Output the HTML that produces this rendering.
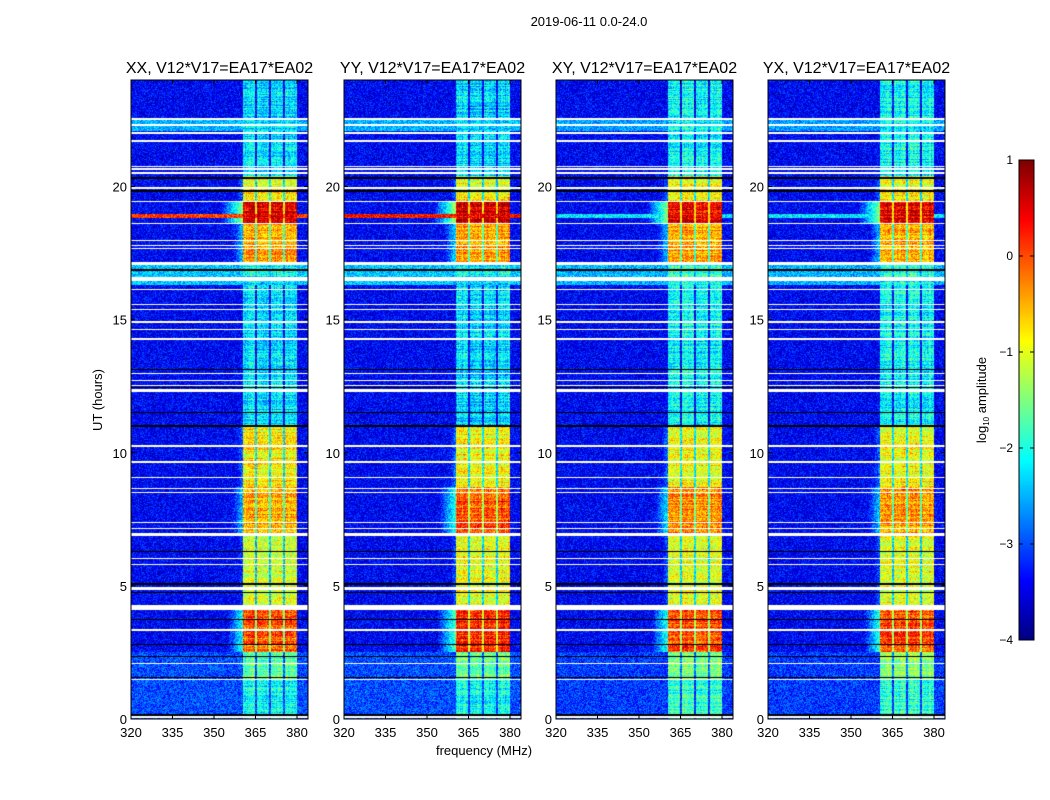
<!DOCTYPE html>
<html><head><meta charset="utf-8">
<style>
body{margin:0;background:#fff;}
#wrap{position:relative;width:1050px;height:800px;overflow:hidden;background:#fff;font-family:"Liberation Sans",sans-serif;}
canvas{position:absolute;left:0;top:0;}
svg{position:absolute;left:0;top:0;}
text{font-family:"Liberation Sans",sans-serif;fill:#000;}
</style></head>
<body>
<div id="wrap">
<canvas id="cv" width="1050" height="800"></canvas>
<svg id="sv" width="1050" height="800"></svg>
</div>
<script>
// ---- data ----
const panelTitles = ["XX, V12*V17=EA17*EA02","YY, V12*V17=EA17*EA02","XY, V12*V17=EA17*EA02","YX, V12*V17=EA17*EA02"];
const xTicks = [320,335,350,365,380];
const yTicks = [0,5,10,15,20];
const cbTicks = [1,0,-1,-2,-3,-4];
const flagWhite = [[22.5,22.56],[22.28,22.33],[21.98,22.03],[21.68,21.73],[20.72,20.77],[20.63,20.68],[20.48,20.53],[19.9,20.0],[19.4,19.46],[18.58,18.63],[17.95,18.0],[17.76,17.8],[17.65,17.69],[17.05,17.15],[16.45,16.6],[16.1,16.15],[15.56,15.6],[15.36,15.4],[14.86,14.94],[14.6,14.65],[14.25,14.3],[12.95,13.0],[12.7,12.74],[12.5,12.54],[12.3,12.4],[10.22,10.3],[9.63,9.68],[9.04,9.08],[8.62,8.66],[8.5,8.54],[7.35,7.4],[7.13,7.18],[6.88,7.0],[6.0,6.05],[5.8,5.84],[4.85,4.95],[4.1,4.3],[3.32,3.38],[2.06,2.1],[1.45,1.52],[0.05,0.1]];
const flagBlack = [[20.3,20.36],[19.78,19.85],[17.6,17.63],[16.82,16.9],[13.1,13.14],[12.42,12.46],[11.5,11.53],[10.96,11.03],[6.28,6.31],[5.05,5.1],[4.75,4.78],[3.71,3.75],[2.78,2.82],[2.33,2.37],[1.53,1.58],[0.13,0.17]];
const rfiStart = [0,1.5,2.5,4.3,5.0,6.9,8.7,11.0,16.6,17.1,18.6,19.4,20.0,20.4];
const rfiXX = [-2.1,-1.7,-0.1,-1.1,-1.1,-0.5,-0.9,-2.3,-2.1,-0.5,0.5,-0.9,-1.0,-2.3];
const rfiYY = [-2.1,-1.6,0.2,-1.0,-1.0,0.0,-0.9,-2.3,-2.1,-0.4,0.6,-0.9,-1.0,-2.3];
const rfiXY = [-1.9,-1.5,0.0,-1.0,-1.0,-0.3,-0.9,-2.1,-1.9,-0.5,0.5,-0.9,-1.0,-2.1];
const rfiYX = [-1.9,-1.5,0.0,-1.0,-1.0,-0.4,-0.9,-2.1,-1.9,-0.5,0.5,-0.9,-1.0,-2.1];
const bgStart = [0,2.5,16.3,17.15,18.8,18.95,22.1,22.5];
const bgXX = [-3.0,-3.4,-2.4,-3.4,0.1,-3.4,-2.5,-3.4];
const bgYY = [-3.0,-3.4,-2.4,-3.4,0.3,-3.4,-2.5,-3.4];
const bgXY = [-3.1,-3.4,-2.5,-3.4,-2.2,-3.4,-2.6,-3.4];
const bgYX = [-3.1,-3.4,-2.5,-3.4,-2.2,-3.4,-2.6,-3.4];
const rfiBands = [[360.5,365.0],[365.5,370.0],[370.6,375.0],[375.6,380.0]];

const rfiSeries=[rfiXX,rfiYY,rfiXY,rfiYX];
const bgSeries=[bgXX,bgYY,bgXY,bgYX];
const panelsX=[131,344,556,768];
const PW=177, TOP=80, BOT=719;
const F0=320, FPX=60/166;
const H=(BOT-TOP)/24;
function xOf(p,f){return panelsX[p]+(f-F0)/FPX;}
function yOf(h){return BOT-h*H;}
function seg(starts,vals,h){let v=vals[0];for(let i=0;i<starts.length;i++){if(h>=starts[i])v=vals[i];}return v;}
function inR(list,h){for(const r of list){if(h>=r[0]&&h<r[1])return true;}return false;}
function jet(v){
  const c=x=>Math.max(0,Math.min(1,x));
  const r=c(1.5-Math.abs(4*v-3)),g=c(1.5-Math.abs(4*v-2)),b=c(1.5-Math.abs(4*v-1));
  return [r*255|0,g*255|0,b*255|0];
}
function hash(a,b){let n=(a*374761393+b*668265263)|0;n=(n^(n>>>13))*1274126177|0;return ((n^(n>>>16))>>>0)/4294967296;}

const cv=document.getElementById('cv'),ctx=cv.getContext('2d');
const img=ctx.createImageData(1050,800);
for(let i=0;i<img.data.length;i+=4){img.data[i]=img.data[i+1]=img.data[i+2]=img.data[i+3]=255;}
for(let p=0;p<4;p++){
  for(let y=TOP;y<BOT;y++){
    const h=(BOT-y-0.5)/H;
    const white=inR(flagWhite,h), black=inR(flagBlack,h);
    const rl=seg(rfiStart,rfiSeries[p],h), bl=seg(bgStart,bgSeries[p],h);
    const rowN=(hash(y,p*77)-0.5)*0.6;
    for(let x=panelsX[p];x<panelsX[p]+PW;x++){
      const f=F0+(x-panelsX[p]+0.5)*FPX;
      let col;
      if(white)col=[255,255,255];
      else if(black)col=[0,0,0];
      else{
        let v=bl;
        let inb=false;
        for(const b of rfiBands){if(f>=b[0]&&f<b[1])inb=true;}
        if(inb)v=rl+rowN+(hash(x,p)-0.5)*0.4;
        else if(f>=360.5&&f<380)v=Math.max(bl,rl-1.3);
        else if(f>353&&f<360.5&&rl>-1.2)v=Math.max(bl,rl-1.9-(360.5-f)*0.25);
        v+=(hash(x+p*1000,y)-0.5)*0.9;
        col=jet(Math.max(0,Math.min(1,(v+4)/5)));
      }
      const k=(y*1050+x)*4;img.data[k]=col[0];img.data[k+1]=col[1];img.data[k+2]=col[2];
    }
  }
}
for(let y=160;y<640;y++){const c=jet((640-y)/480);for(let x=1019;x<1034;x++){const k=(y*1050+x)*4;img.data[k]=c[0];img.data[k+1]=c[1];img.data[k+2]=c[2];}}
ctx.putImageData(img,0,0);

const sv=document.getElementById('sv');const NS='http://www.w3.org/2000/svg';
function mk(tag,attrs,txt){const e=document.createElementNS(NS,tag);for(const k in attrs)e.setAttribute(k,attrs[k]);if(txt!==undefined)e.textContent=txt;sv.appendChild(e);return e;}
let t;
t=mk('text',{x:589,y:26,'font-size':13,'text-anchor':'middle'},'2019-06-11 0.0-24.0');


t=mk('text',{x:0,y:0,'font-size':13,'text-anchor':'middle',transform:'translate(102,400) rotate(-90)'},'UT (hours)');


t=mk('text',{x:484,y:755,'font-size':13,'text-anchor':'middle'},'frequency (MHz)');


for(let p=0;p<4;p++){
  const x0=panelsX[p];
  t=mk('text',{x:x0+PW/2,y:73,'font-size':16,'text-anchor':'middle'},panelTitles[p]);
  
  
  const fr=mk('rect',{x:x0,y:TOP,width:PW,height:BOT-TOP,fill:'none',stroke:'#000','stroke-width':1});
  
  
  for(const f of xTicks){const x=xOf(p,f);
    mk('line',{x1:x,x2:x,y1:BOT,y2:BOT-4,stroke:'#000'});mk('line',{x1:x,x2:x,y1:TOP,y2:TOP+4,stroke:'#000'});
    t=mk('text',{x:x,y:737,'font-size':13,'text-anchor':'middle'},String(f));
    
    }
  for(const h of yTicks){const y=yOf(h);
    mk('line',{x1:x0,x2:x0+4,y1:y,y2:y,stroke:'#000'});mk('line',{x1:x0+PW,x2:x0+PW-4,y1:y,y2:y,stroke:'#000'});
    t=mk('text',{x:x0-4,y:y+5,'font-size':13,'text-anchor':'end'},String(h));
    
    }
}
const cb=mk('rect',{x:1019,y:160,width:15,height:480,fill:'none',stroke:'#000'});


for(const v of cbTicks){const y=640-(v+4)*96;
  mk('line',{x1:1019,x2:1023,y1:y,y2:y,stroke:'#000'});mk('line',{x1:1030,x2:1034,y1:y,y2:y,stroke:'#000'});
  t=mk('text',{x:1013,y:y+4,'font-size':12,'text-anchor':'end'},(v<0?'\u2212'+(-v):String(v)));
  
  }
t=mk('text',{x:0,y:0,'font-size':13,'text-anchor':'middle',transform:'translate(986,400) rotate(-90)'});
t.innerHTML='log<tspan font-size="8" dy="3">10</tspan><tspan dy="-3"> amplitude</tspan>';


</script>
</body></html>
